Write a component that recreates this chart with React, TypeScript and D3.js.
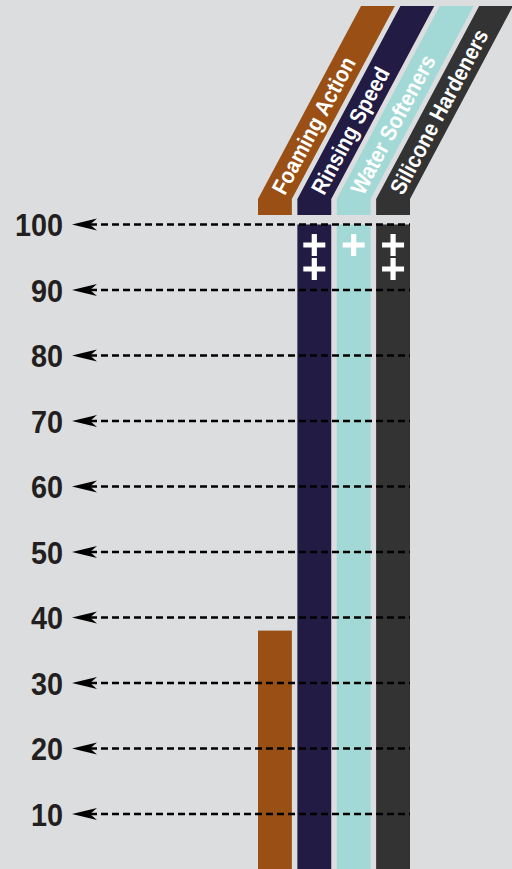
import React from "react";
import * as d3 from "d3";

const categories = ["Foaming Action", "Rinsing Speed", "Water Softeners", "Silicone Hardeners"];
const values = [38, 100, 100, 100];
const plusCounts = [0, 2, 1, 2];
const colors = ["#9a5014", "#221b43", "#a2d9d6", "#333333"];
const tickValues = [10, 20, 30, 40, 50, 60, 70, 80, 90, 100];

const W = 512;
const H = 869;

export default function App() {
  const x = d3.scaleBand<string>().domain(categories).range([258, 410]).paddingInner(0.14).paddingOuter(0);
  const y = d3.scaleLinear().domain([0, 100]).range([879.5, 224.5]);
  const bw = x.bandwidth();

  const headBottom = 215;
  const slantBottom = 199;
  const slantTop = 6;
  const shift = 103;
  const dx = shift, dy = slantBottom - slantTop;
  const len = Math.sqrt(dx * dx + dy * dy);
  const ux = dx / len, uy = -dy / len;
  const angle = (Math.atan2(uy, ux) * 180) / Math.PI;

  const lineStart = 90;
  const lineEnd = 410;

  return (
    <svg width={W} height={H} style={{ position: "fixed", left: 0, top: 0, background: "#dcdddf" }}>
      <rect x={0} y={0} width={W} height={H} fill="#dcdddf" />
      {categories.map((c, i) => {
        const x0 = x(c)!;
        const pts = [
          [x0, headBottom],
          [x0, slantBottom],
          [x0 + shift, slantTop],
          [x0 + bw + shift, slantTop],
          [x0 + bw, slantBottom],
          [x0 + bw, headBottom],
        ];
        const cx = x0 + bw / 2 + 7 * ux;
        const cy = slantBottom + 7 * uy;
        return (
          <g key={c}>
            <polygon points={pts.map((p) => p.join(",")).join(" ")} fill={colors[i]} />
            <text
              x={0}
              y={0}
              transform={`translate(${cx},${cy}) rotate(${angle}) scale(0.9,1)`}
              fill="#ffffff"
              fontFamily="Liberation Sans, Arial, sans-serif"
              fontWeight="bold"
              fontSize={22.5}
              dominantBaseline="central"
            >
              {c}
            </text>
          </g>
        );
      })}
      {categories.map((c, i) => {
        const x0 = x(c)!;
        const top = y(values[i]);
        return <rect key={c} x={x0} y={top} width={bw} height={H - top} fill={colors[i]} />;
      })}
      {categories.map((c, i) => {
        const cx = x(c)! + bw / 2;
        return d3.range(plusCounts[i]).map((k) => {
          const cy = 245 + k * 24;
          const s = 11;
          const t = 2.6;
          return (
            <path
              key={c + k}
              d={`M${cx - s},${cy - t}H${cx - t}V${cy - s}H${cx + t}V${cy - t}H${cx + s}V${cy + t}H${cx + t}V${cy + s}H${cx - t}V${cy + t}H${cx - s}Z`}
              fill="#ffffff"
            />
          );
        });
      })}
      {tickValues.map((v) => {
        const yy = y(v);
        return (
          <g key={v}>
            <line x1={lineStart} x2={lineEnd} y1={yy} y2={yy} stroke="#000" strokeWidth={2.5} strokeDasharray="7,4" />
            <path d={`M72,${yy}L97,${yy - 6}L90,${yy}L97,${yy + 6}Z`} fill="#000" />
            <text
              x={0}
              y={0}
              transform={`translate(63,${yy}) scale(0.9,1)`}
              textAnchor="end"
              dominantBaseline="central"
              fontFamily="Liberation Sans, Arial, sans-serif"
              fontWeight="bold"
              fontSize={32}
              fill="#231f20"
            >
              {v}
            </text>
          </g>
        );
      })}
    </svg>
  );
}
